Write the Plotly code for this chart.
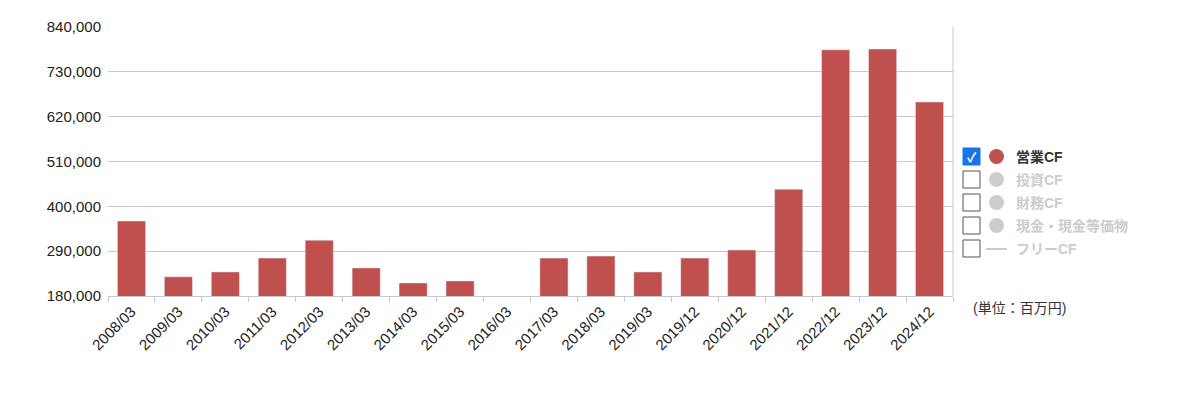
import plotly.graph_objects as go

periods = ["2008/03", "2009/03", "2010/03", "2011/03", "2012/03", "2013/03", "2014/03",
           "2015/03", "2016/03", "2017/03", "2018/03", "2019/03", "2019/12", "2020/12",
           "2021/12", "2022/12", "2023/12", "2024/12"]
operating_cf = [364000, 227000, 239000, 273000, 317000, 249000, 212000,
                217000, None, 273000, 278000, 239000, 273000, 293000,
                442000, 784000, 786000, 656000]
tick_vals = [180000, 290000, 400000, 510000, 620000, 730000, 840000]
legend_labels = ["営業CF", "投資CF", "財務CF", "現金・現金等価物", "フリーCF"]

W, H = 1200, 402
L, R, T, B = 100, 255, 19, 114

fig = go.Figure(go.Bar(x=periods, y=operating_cf, marker_color="#c0504d", width=0.6))

fig.update_layout(
    width=W, height=H, margin=dict(l=L, r=R, t=T, b=B, autoexpand=False),
    plot_bgcolor="white", paper_bgcolor="white", showlegend=False,
    font=dict(family="Liberation Sans, Noto Sans CJK JP, sans-serif", size=15, color="#222"),
    bargap=0.4,
)
fig.update_yaxes(range=[180000, 840000], tickvals=tick_vals, tickformat=",",
                 gridcolor="#c8c8c8", showline=False, zeroline=False, ticks="",
                 automargin=False, ticklabelstandoff=6)
fig.update_xaxes(tickangle=-45, showline=True, linecolor="#c8c8c8", automargin=False,
                 ticks="outside", ticklen=5, tickcolor="#c8c8c8", tickson="boundaries")
fig.add_shape(type="line", xref="paper", yref="paper", x0=1, x1=1, y0=0, y1=1,
              line=dict(color="#c8c8c8", width=1))

def px_x(p):
    return (p - L) / (W - L - R)

def px_y(p):
    return 1 - (p - T) / (H - T - B)

for i, lab in enumerate(legend_labels):
    yc = 149 + i * 23
    on = i == 0
    fig.add_shape(type="rect", xref="paper", yref="paper",
                  x0=px_x(955), x1=px_x(972), y0=px_y(yc + 8), y1=px_y(yc - 9),
                  fillcolor="#1a73e8" if on else "white",
                  line=dict(color="#1a73e8" if on else "#555", width=1))
    if on:
        fig.add_annotation(x=px_x(963.5), y=px_y(yc), xref="paper", yref="paper",
                           xanchor="center", yanchor="middle",
                           text="<b>✓</b>", showarrow=False, font=dict(color="white", size=13))
    col = "#c0504d" if on else "#cccccc"
    if i < 4:
        fig.add_shape(type="circle", xref="paper", yref="paper",
                      x0=px_x(981), x1=px_x(996), y0=px_y(yc + 7), y1=px_y(yc - 8),
                      fillcolor=col, line=dict(width=0))
    else:
        fig.add_shape(type="line", xref="paper", yref="paper",
                      x0=px_x(978), x1=px_x(999), y0=px_y(yc), y1=px_y(yc),
                      line=dict(color=col, width=2))
    fig.add_annotation(x=px_x(1006), y=px_y(yc), xref="paper", yref="paper",
                       xanchor="left", yanchor="middle", text="<b>" + lab + "</b>",
                       showarrow=False,
                       font=dict(size=14, color="#333" if on else "#cccccc"))

fig.add_annotation(x=px_x(1060), y=px_y(310), xref="paper", yref="paper",
                   text="(単位：百万円)", showarrow=False, font=dict(size=14, color="#333"))

fig.write_html("out.html")
